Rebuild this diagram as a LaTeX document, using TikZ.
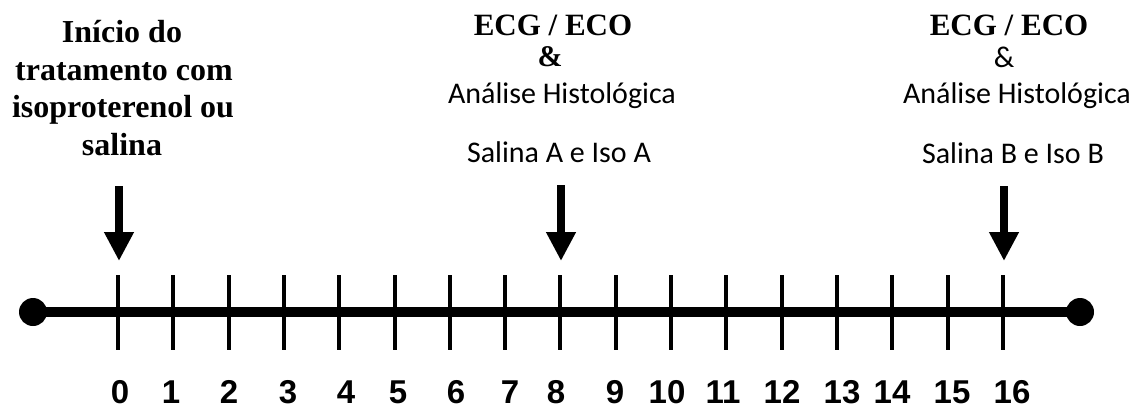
\documentclass[tikz,border=0pt]{standalone}
\usepackage{fontspec}
\setmainfont{Liberation Serif}
\newfontfamily\calib{Carlito}
\newfontfamily\arialf{Liberation Sans}
\usetikzlibrary{arrows.meta}
\tikzset{
  boldserif/.style={inner sep=0pt, anchor=base, font=\fontsize{31}{37}\selectfont\bfseries},
  leftserif/.style={inner sep=0pt, anchor=base, font=\fontsize{32}{37}\selectfont\bfseries},
  calibtxt/.style={inner sep=0pt, anchor=base, font=\fontsize{30}{36}\selectfont\calib},
  numlab/.style={inner sep=0pt, anchor=base, text depth=0pt, font=\fontsize{33}{38}\selectfont\arialf\bfseries},
  axisline/.style={line width=10pt},
  tickline/.style={line width=4pt},
  bigarrow/.style={line width=8pt, -{Triangle[width=28pt,length=29pt]}},
}
\begin{document}
\begin{tikzpicture}[x=1pt,y=-1pt]
\useasboundingbox (0,0) rectangle (1137,410);
% axis
\coordinate (L) at (33,312);
\coordinate (R) at (1080,312);
\draw[axisline] (L) -- (R);
\fill (L) circle[radius=14pt];
\fill (R) circle[radius=14pt];
% ticks
\foreach \i in {0,...,16}{
  \coordinate (t\i) at ({118+55.3*\i},312);
  \draw[tickline] ([yshift=37pt]t\i) -- ([yshift=-38pt]t\i);
}
% numbers
\foreach \n/\x in {0/120,1/171,2/229,3/288,4/346,5/398,6/456,7/510,8/556,9/615,10/667,11/723,12/782,13/842,14/892,15/952,16/1012}{
  \node[numlab] (n\n) at (\x,403) {\n};
}
% arrows
\coordinate (a0) at (119,186);
\coordinate (b0) at (119,261);
\coordinate (a8) at (561,185);
\coordinate (b8) at (561,261);
\coordinate (a16) at (1004,186);
\coordinate (b16) at (1004,261);
\draw[bigarrow] (a0) -- (b0);
\draw[bigarrow] (a8) -- (b8);
\draw[bigarrow] (a16) -- (b16);
% left text
\node[leftserif] (l1) at (122,42) {Início do};
\node[leftserif] (l2) at (124,80) {tratamento com};
\node[leftserif] (l3) at (123,117) {isoproterenol ou};
\node[leftserif] (l4) at (122,155) {salina};
% middle text
\node[boldserif] (m1) at (553,35) {ECG / ECO};
\node[boldserif, font=\fontsize{30}{36}\selectfont\bfseries] (m2) at (550,66) {\&};
\node[calibtxt] (m3) at (562,103) {Análise Histológica};
\node[calibtxt] (m4) at (559,162) {Salina A e Iso A};
% right text
\node[boldserif] (r1) at (1009,35) {ECG / ECO};
\node[calibtxt, font=\fontsize{30}{34}\selectfont\calib] (r2) at (1004,67) {\&};
\node[calibtxt] (r3) at (1017,103) {Análise Histológica};
\node[calibtxt] (r4) at (1013,163) {Salina B e Iso B};
\end{tikzpicture}
\end{document}
